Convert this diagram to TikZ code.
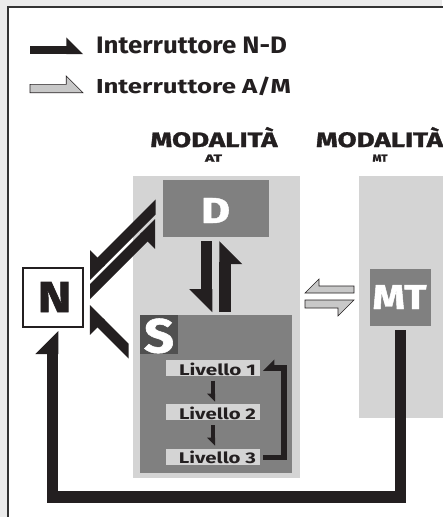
\documentclass[tikz,border=0pt]{standalone}
\usepackage{fontspec}
\usepackage{graphicx}
\setmainfont{Fira Sans}
\newfontfamily\fhv{Fira Sans}[BoldFeatures={FakeBold=1.2}]
\usetikzlibrary{arrows.meta}
\definecolor{bg}{HTML}{EBEBEB}
\definecolor{panel}{HTML}{D4D4D4}
\definecolor{boxg}{HTML}{808080}
\definecolor{sdark}{HTML}{505050}
\definecolor{ink}{HTML}{231F20}
\definecolor{amfill}{HTML}{C8C8C8}
\definecolor{frame}{HTML}{333333}

\pgfdeclarearrow{
  name = HarpL,
  parameters = {\the\pgflinewidth},
  setup code = {
    \pgfarrowssettipend{0pt}
    \pgfarrowssetlineend{-1.8\pgflinewidth}
    \pgfarrowssetbackend{-2\pgflinewidth}
    \pgfarrowssavethe\pgflinewidth
  },
  drawing code = {
    \pgfpathmoveto{\pgfqpoint{0pt}{-.5\pgflinewidth}}
    \pgfpathlineto{\pgfqpoint{-2\pgflinewidth}{1.5\pgflinewidth}}
    \pgfpathlineto{\pgfqpoint{-2\pgflinewidth}{-.5\pgflinewidth}}
    \pgfpathclose
    \pgfusepathqfill
  }
}
\pgfdeclarearrow{
  name = HarpR,
  parameters = {\the\pgflinewidth},
  setup code = {
    \pgfarrowssettipend{0pt}
    \pgfarrowssetlineend{-1.8\pgflinewidth}
    \pgfarrowssetbackend{-2\pgflinewidth}
    \pgfarrowssavethe\pgflinewidth
  },
  drawing code = {
    \pgfpathmoveto{\pgfqpoint{0pt}{.5\pgflinewidth}}
    \pgfpathlineto{\pgfqpoint{-2\pgflinewidth}{-1.5\pgflinewidth}}
    \pgfpathlineto{\pgfqpoint{-2\pgflinewidth}{.5\pgflinewidth}}
    \pgfpathclose
    \pgfusepathqfill
  }
}

% text fitted to a width and a height (above the baseline)
\newcommand\fitb[3]{\resizebox{#1pt}{#2pt}{\fontsize{20}{20}\selectfont\bfseries #3}}
\newcommand\fith[3]{\resizebox{#1pt}{#2pt}{\fontsize{20}{20}\fhv\bfseries #3}}

\tikzset{
  rect/.style={draw=none, inner sep=0pt, outer sep=0pt, rectangle},
  txt/.style={inner sep=0pt, outer sep=0pt, anchor=base},
  conn/.style={draw=ink, line cap=butt, line join=miter},
  harpL/.style={-{HarpL}},
  harpR/.style={-{HarpR}},
  amarrow/.style={fill=amfill, draw=ink, line width=0.6pt, line join=miter},
}

\begin{document}
\begin{tikzpicture}[x=1pt, y=-1pt]
\useasboundingbox (0,0) rectangle (442,517);
\fill[bg] (0,0) rectangle (442,517);
\draw[frame, fill=white, line width=1.2pt] (8,7) rectangle (470,540);

% legend
\coordinate (lgA) at (30,49.9);
\coordinate (lgB) at (83,49.9);
\draw[conn, line width=8.3pt, harpL] (lgA) -- (lgB);
\node[txt, anchor=base west, text=ink] (lg1) at (96,53) {\fitb{191}{16.5}{Interruttore N-D}};
\draw[amarrow] (30,84.3) -- (66.2,84.3) -- (66.2,75.9) -- (83,92.7) -- (30,92.7) -- cycle;
\node[txt, anchor=base west, text=ink] (lg2) at (96,93) {\fitb{195}{16.5}{Interruttore A/M}};

% headings
\node[txt, anchor=base west, text=ink] (h1) at (150.5,147) {\fith{127}{20}{MODALITÀ}};
\node[txt, text=ink] (h1s) at (213.5,161.7) {\fith{17}{7}{AT}};
\node[txt, anchor=base west, text=ink] (h2) at (316,147) {\fith{127}{20}{MODALITÀ}};
\node[txt, text=ink] (h2s) at (380,161.7) {\fith{15}{7}{MT}};

% panels
\node[rect, fill=panel, minimum width=167pt, minimum height=302pt] (ATpanel) at (216.5,327) {};
\node[rect, fill=panel, minimum width=101pt, minimum height=242pt] (MTpanel) at (409.5,297) {};

% boxes
\node[rect, fill=boxg, minimum width=106pt, minimum height=57pt] (Dbox) at (216,208.5) {};
\node[txt, text=white] (Dt) at (215.5,223) {\fith{29}{25}{D}};
\node[rect, fill=boxg, minimum width=152pt, minimum height=158pt] (Sbox) at (216,394) {};
\node[rect, fill=sdark, minimum width=38pt, minimum height=39pt] (Slab) at (159,334.5) {};
\node[txt, text=white] (St) at (159,352.5) {\fith{30}{34}{S}};
\node[rect, draw=ink, line width=1.5pt, fill=white, minimum width=60pt, minimum height=59pt] (Nbox) at (53,297.5) {};
\node[txt, text=ink] (Nt) at (54.5,312) {\fith{34}{30}{N}};
\node[rect, fill=boxg, minimum width=61pt, minimum height=57pt] (MTbox) at (400.5,297.5) {};
\node[txt, text=white] (MTt) at (399.5,309) {\fith{54}{24}{MT}};

\node[rect, fill=panel, minimum width=94pt, minimum height=16pt] (L1) at (213,368) {};
\node[rect, fill=panel, minimum width=94pt, minimum height=16pt] (L2) at (213,412) {};
\node[rect, fill=panel, minimum width=94pt, minimum height=16pt] (L3) at (213,457) {};
\node[txt, text=ink] (L1t) at (217.5,375) {\fitb{77}{12.5}{Livello 1}};
\node[txt, text=ink] (L2t) at (217.5,419) {\fitb{77}{12.5}{Livello 2}};
\node[txt, text=ink] (L3t) at (217.5,463) {\fitb{77}{12.5}{Livello 3}};

% D <-> S
\draw[conn, line width=11.5pt, harpR] ([xshift=-9.5pt,yshift=-4pt]Dbox.south) -- ([xshift=-9.5pt,yshift=3pt]Sbox.north);
\draw[conn, line width=11.5pt, harpR] ([xshift=9pt,yshift=3pt]Sbox.north) -- ([xshift=9pt,yshift=-4pt]Dbox.south);

% Livello arrows
\draw[conn, line width=4pt, harpR] ([yshift=-4.7pt]L1.south) -- ([yshift=2.3pt]L2.north);
\draw[conn, line width=4pt, harpR] ([yshift=-5pt]L2.south) -- ([yshift=3.3pt]L3.north);
\draw[conn, line width=5.7pt, harpR] ([xshift=3pt,yshift=-0.5pt]L3.east) -- ++(21,0) |- ([xshift=3pt]L1.east);

% D <-> N diagonals
\coordinate (dnA) at (165,197.5);
\coordinate (dnB) at (86.25,276.25);
\coordinate (ndA) at (80,301.5);
\coordinate (ndB) at (158.75,222.75);
\begin{scope}
\clip (90,150) rectangle (155.5,320);
\draw[conn, line width=10.6pt, harpR] (dnA) -- (dnB);
\draw[conn, line width=10.6pt, harpR] (ndA) -- (ndB);
\end{scope}
% S -> N
\coordinate (snA) at (140,362.5);
\coordinate (snB) at (86.25,308.75);
\begin{scope}
\clip (80,290) rectangle (128.5,380);
\draw[conn, line width=10.6pt, harpL] (snA) -- (snB);
\end{scope}

% MT -> N loop
\coordinate (loopR) at (400.5,497);
\draw[conn, line width=11.5pt, harpL] ([yshift=-4pt]MTbox.south) -- (loopR) -| ([xshift=-0.5pt,yshift=-4pt]Nbox.south);

% A/M switch arrows
\draw[amarrow] (354,286) -- (319,286) -- (319,279) -- (305,293) -- (354,293) -- cycle;
\draw[amarrow] (305,300) -- (354,300) -- (338,316) -- (338,308) -- (305,308) -- cycle;
\end{tikzpicture}
\end{document}
